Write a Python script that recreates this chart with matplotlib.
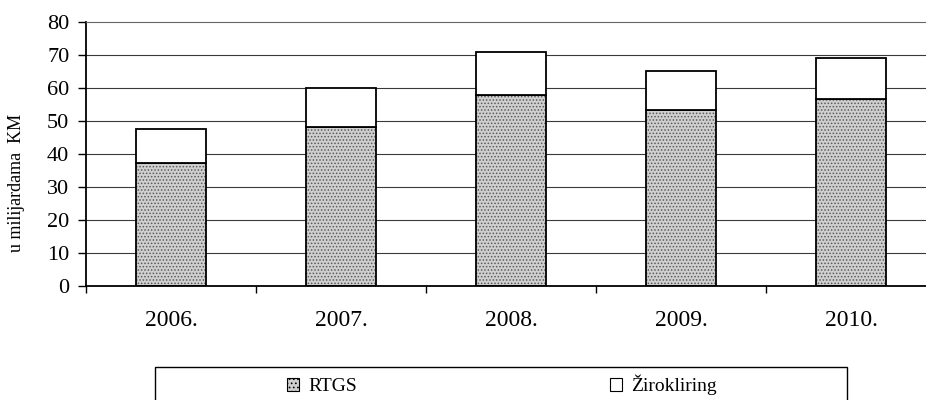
import numpy as np
import matplotlib
matplotlib.use('Agg')
import matplotlib.pyplot as plt
from matplotlib.patches import Patch, Rectangle

plt.rcParams['font.family'] = ['Liberation Serif', 'DejaVu Serif']
plt.rcParams['hatch.linewidth'] = 0.7

years = ['2006.', '2007.', '2008.', '2009.', '2010.']
rtgs = [37.4, 48.3, 57.9, 53.3, 56.6]
zirokliring = [10.1, 11.8, 12.9, 11.9, 12.4]

W, H = 926, 400
fig = plt.figure(figsize=(W / 100, H / 100), dpi=100)
ax = fig.add_axes([86 / W, 114 / H, 850 / W, 264 / H])

x = np.arange(len(years))
bw = 0.41

# stacked bars: dotted RTGS base, plain white Žirokliring on top
ax.bar(x, rtgs, width=bw, color='#cfcfcf', hatch='.....', edgecolor='#5a5a5a',
       linewidth=0, zorder=2)
ax.bar(x, rtgs, width=bw, fill=False, edgecolor='black', linewidth=1.3, zorder=3)
ax.bar(x, zirokliring, bottom=rtgs, width=bw, color='white', edgecolor='black',
       linewidth=1.3, zorder=3)

ax.set_xlim(-0.5, len(years) - 0.5)
ax.set_ylim(0, 80)
ax.set_yticks(range(0, 81, 10))
ax.tick_params(axis='y', labelsize=16, length=6, width=1, pad=6)
ax.set_xticks(x)
ax.set_xticklabels(years)
ax.tick_params(axis='x', which='major', length=0, labelsize=17, pad=17)
ax.set_xticks(np.arange(-0.5, len(years), 1), minor=True)
ax.tick_params(axis='x', which='minor', length=5, width=1, direction='out')

for v in range(10, 80, 10):
    ax.axhline(v, color='#3a3a3a', linewidth=0.8, zorder=1)

ax.spines['right'].set_visible(False)
ax.spines['top'].set_linestyle((0, (2, 1)))
ax.spines['top'].set_color('#666666')
ax.spines['top'].set_linewidth(0.8)
ax.spines['left'].set_linewidth(1.3)
ax.spines['bottom'].set_linewidth(1.3)

fig.text(17 / W, 1 - 183 / H, 'u milijardama  KM', rotation=90, fontsize=13,
         ha='center', va='center')

handles = [Patch(facecolor='#cfcfcf', edgecolor='black', hatch='....', linewidth=0.8),
           Patch(facecolor='white', edgecolor='black', linewidth=0.8)]
fig.legend(handles, ['RTGS', 'Žirokliring'], loc='center', ncol=2,
           bbox_to_anchor=(502 / W, 1 - 385 / H), frameon=False, fontsize=14,
           handlelength=0.6, handleheight=0.6, handletextpad=0.5,
           columnspacing=13.0, borderpad=0)
fig.patches.append(Rectangle((155 / W, -0.02), (847 - 155) / W, 33 / H + 0.02,
                             transform=fig.transFigure, fill=False,
                             edgecolor='black', linewidth=1.0))

fig.savefig('out.png', dpi=100)
